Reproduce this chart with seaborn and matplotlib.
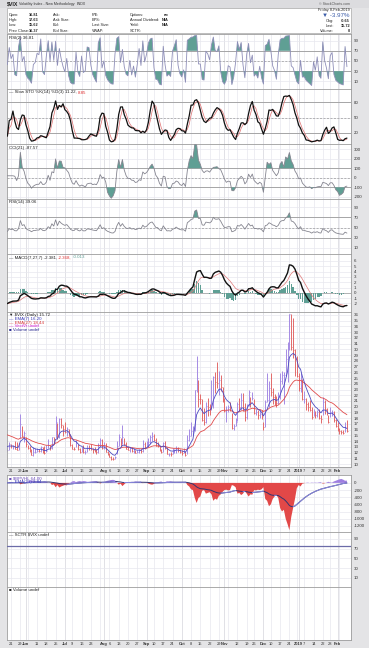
import numpy as np
import pandas as pd
import matplotlib
matplotlib.use("Agg")
import matplotlib.pyplot as plt
from matplotlib.patches import Rectangle
import seaborn as sns

# ---------------- data ----------------
holidays = ["2018-05-28", "2018-07-04", "2018-09-03", "2018-11-22", "2018-12-05",
            "2018-12-25", "2019-01-01", "2019-01-21"]
dates = pd.bdate_range("2018-05-17", "2019-02-08", freq="C", holidays=holidays)

close = [12.42, 13.42, 13.08, 13.22, 12.58, 12.53, 13.22, 17.02, 14.94, 15.43,
         13.46, 12.74, 12.40, 11.64, 12.13, 12.18, 12.35, 12.34, 12.94, 12.12, 11.98, 12.31, 13.35, 12.79, 14.64, 13.77, 17.33, 14.68, 17.91, 16.85, 16.09,
         15.60, 16.14, 14.97, 13.37, 12.69, 12.64, 13.63, 12.58, 12.18, 12.83, 12.06, 12.10, 12.87, 12.86, 12.62, 12.41, 12.29, 12.14, 13.03, 14.26, 12.83,
         13.15, 12.19, 11.64, 11.27, 10.93, 10.85, 11.27, 13.16, 14.78, 13.31, 14.64, 13.45, 12.64, 12.49, 12.86, 12.25, 12.41, 11.99, 12.16, 12.50, 12.25, 13.53, 12.86,
         13.16, 13.91, 14.65, 14.88, 14.16, 13.22, 13.14, 12.37, 12.07, 13.68, 12.79, 11.75, 11.80, 11.68, 12.20, 12.42, 12.89, 12.41, 12.12,
         12.00, 12.05, 11.61, 14.22, 14.82, 15.69, 15.95, 22.96, 24.98, 21.31, 21.30, 17.62, 17.40, 20.06, 19.89, 19.64, 20.71, 25.23, 24.22, 24.16, 24.70, 23.35, 21.23,
         19.34, 19.51, 19.96, 19.91, 16.36, 16.72, 17.36, 20.45, 20.02, 21.25, 19.98, 18.14, 20.10, 22.48, 20.80, 21.52, 18.90, 19.02, 18.49, 18.79, 18.07,
         16.44, 20.74, 21.19, 23.23, 22.64, 21.76, 21.46, 20.65, 21.63, 24.52, 25.58, 25.58, 28.38, 30.11, 36.07, 30.41, 29.96, 28.34, 25.42,
         23.22, 25.45, 21.38, 21.40, 20.47, 19.98, 19.50, 18.19, 19.07, 18.60, 19.04, 18.06, 17.80, 20.80, 19.52, 18.89, 17.42, 18.87, 19.13, 17.66, 16.57,
         16.14, 15.73, 15.57, 15.38, 16.37, 15.72]

high = [13.20, 13.80, 13.55, 13.40, 14.10, 13.90, 13.60, 18.78, 16.65, 15.85,
        14.80, 13.40, 13.10, 12.60, 12.95, 12.80, 12.80, 12.70, 13.10, 13.00, 13.20, 13.40, 14.35, 13.30, 14.80, 14.70, 18.47, 17.10, 17.95, 18.10, 16.75,
        17.40, 16.40, 16.20, 15.30, 13.50, 12.90, 14.20, 13.50, 12.80, 12.90, 13.40, 12.40, 13.30, 13.40, 13.50, 12.85, 12.90, 12.60, 13.60, 14.60, 14.30,
        13.80, 13.60, 12.30, 12.00, 11.40, 11.20, 11.50, 14.00, 15.20, 14.60, 16.86, 14.50, 13.90, 13.10, 12.95, 12.90, 12.80, 12.50, 12.40, 12.70, 12.60, 14.20, 13.80,
        14.00, 14.50, 15.00, 15.60, 15.20, 14.60, 13.80, 13.10, 12.70, 13.80, 14.00, 12.90, 12.00, 12.10, 12.80, 12.60, 13.10, 13.00, 12.70,
        12.50, 12.80, 12.30, 15.10, 16.10, 17.30, 16.60, 23.00, 28.84, 24.70, 22.30, 21.40, 19.80, 20.90, 21.50, 20.50, 24.60, 25.40, 26.10, 27.80, 26.20, 25.50, 23.40,
        21.50, 20.10, 20.30, 20.80, 18.90, 17.00, 18.10, 20.81, 21.50, 22.40, 22.40, 20.70, 20.40, 22.90, 21.70, 22.50, 21.40, 19.60, 19.40, 19.60, 19.50,
        17.30, 21.20, 25.90, 24.50, 25.94, 23.30, 22.20, 21.80, 22.50, 25.90, 26.20, 26.00, 30.00, 31.26, 36.20, 36.10, 35.40, 30.10, 28.90,
        25.80, 25.90, 24.80, 22.80, 21.60, 20.80, 21.20, 19.90, 19.60, 19.30, 19.40, 19.60, 18.50, 21.70, 21.10, 19.70, 18.50, 20.00, 19.40, 19.20, 17.90,
        17.40, 16.30, 16.00, 15.90, 17.30, 17.63]

low = [12.30, 12.50, 12.80, 12.65, 12.55, 12.45, 12.40, 14.60, 14.80, 13.90,
       12.90, 12.60, 12.15, 11.60, 11.50, 12.00, 12.05, 12.10, 12.20, 11.90, 11.85, 12.10, 12.80, 12.40, 12.70, 13.50, 14.60, 14.40, 14.50, 16.30, 14.90,
       15.40, 14.90, 14.90, 13.20, 12.60, 12.40, 13.00, 12.50, 12.00, 12.10, 11.90, 11.85, 12.20, 12.50, 12.50, 11.90, 12.10, 11.80, 12.00, 12.90, 12.70,
       12.60, 12.10, 11.60, 11.20, 10.80, 10.70, 10.85, 11.80, 13.20, 13.20, 13.50, 13.30, 12.60, 12.40, 12.20, 12.15, 12.00, 11.90, 11.90, 12.00, 11.95, 12.20, 12.70,
       12.90, 13.00, 13.50, 14.00, 14.00, 13.10, 12.90, 12.30, 11.90, 12.20, 12.70, 11.70, 11.50, 11.40, 11.80, 12.00, 11.90, 12.20, 11.90,
       11.60, 11.90, 11.34, 11.80, 14.10, 14.90, 15.10, 15.80, 22.50, 19.90, 20.50, 17.50, 16.90, 17.10, 18.30, 18.60, 19.50, 19.80, 22.40, 23.20, 22.00, 22.80, 20.90,
       19.00, 17.30, 19.00, 19.20, 16.20, 15.90, 16.60, 17.50, 19.20, 19.50, 19.30, 17.60, 17.90, 20.20, 19.90, 21.10, 18.80, 18.60, 17.90, 18.10, 17.80,
       16.00, 16.40, 20.80, 19.90, 21.90, 20.40, 20.30, 20.00, 20.50, 21.30, 23.90, 20.50, 25.40, 24.30, 29.90, 29.80, 28.50, 25.40, 25.20,
       22.80, 22.60, 21.10, 20.60, 19.40, 19.30, 19.30, 17.90, 18.40, 18.10, 18.20, 17.90, 17.10, 18.60, 18.70, 18.50, 17.20, 18.20, 18.40, 17.40, 16.40,
       15.80, 15.30, 15.30, 15.20, 15.60, 15.62]

bpvhl = [10, 20, 15, 5, 10, 20, 30, -40, -20, -10,
         20, 40, 60, 70, 60, 50, 40, 35, 20, 30, 45, 30, 0, 10, -60, -40, -120, -60, -130, -100, -80,
         -60, -70, -30, 10, 40, 50, 20, 40, 50, 40, 50, 45, 30, 30, 35, 40, 45, 50, 20, -20, 10,
         20, 40, 60, 70, 80, 85, 70, 10, -50, -20, -90, -40, 10, 20, 15, 30, 25, 40, 35, 30, 35, -10, 10,
         0, -20, -40, -50, -30, 0, 10, 30, 40, 0, 20, 45, 40, 45, 30, 25, 10, 20, 25,
         20, 15, 30, -60, -100, -180, -200, -420, -560, -420, -380, -220, -200, -300, -280, -260, -320, -500, -440, -470, -360, -320, -250,
         -200, -190, -210, -200, -60, -80, -120, -300, -280, -340, -300, -220, -300, -380, -320, -330, -200, -210, -190, -200, -180,
         -120, -450, -500, -650, -600, -450, -380, -340, -420, -700, -800, -750, -1000, -1150, -1320, -950, -700, -450, -150,
         -60, -100, -20, -10, 5, 10, 0, 10, 5, 10, 5, 15, 20, -20, -10, 10, 30, 15, 10, 40, 60,
         80, 100, 110, 90, 60, 64]

ema7_seed = 13.3
ema27_seed = 15.3
rsi14_seed_gain, rsi14_seed_loss = 0.33, 0.45
rsi2_seed_gain, rsi2_seed_loss = 0.3, 0.4
sctr_level = 76

tick_days = ["2018-05-21", "2018-05-29", "2018-06-01", "2018-06-11", "2018-06-18", "2018-06-25",
             "2018-07-02", "2018-07-09", "2018-07-16", "2018-07-23", "2018-08-01", "2018-08-06",
             "2018-08-13", "2018-08-20", "2018-08-27", "2018-09-04", "2018-09-10", "2018-09-17",
             "2018-09-24", "2018-10-01", "2018-10-08", "2018-10-15", "2018-10-22", "2018-10-29",
             "2018-11-01", "2018-11-12", "2018-11-19", "2018-11-26", "2018-12-03", "2018-12-10",
             "2018-12-17", "2018-12-24", "2019-01-02", "2019-01-07", "2019-01-14", "2019-01-22",
             "2019-01-28", "2019-02-01"]
tick_labels = ["21", "29", "Jun", "11", "18", "25", "Jul", "9", "16", "23", "Aug", "6", "13", "20",
               "27", "Sep", "10", "17", "24", "Oct", "8", "15", "22", "29", "Nov", "12", "19", "26",
               "Dec", "10", "17", "24", "2019", "7", "14", "22", "28", "Feb"]
bold_labels = {"Jun", "Jul", "Aug", "Sep", "Oct", "Nov", "Dec", "2019", "Feb"}

n = len(dates)
for nm, arr in [("close", close), ("high", high), ("low", low), ("bpvhl", bpvhl)]:
    if len(arr) != n:
        raise SystemExit(f"{nm} has {len(arr)} values, dates {n}")

# ---------------- indicators ----------------
x = np.arange(n)
c = pd.Series(close, dtype=float)
h = pd.Series(high, dtype=float)
l = pd.Series(low, dtype=float)


def ema_seeded(vals, span, seed):
    a = 2.0 / (span + 1)
    e = seed
    out = []
    for v in vals:
        e = e + a * (v - e)
        out.append(e)
    return np.array(out)


def rsi_wilder(vals, per, g0, l0):
    ag, al = g0, l0
    out = [100 * ag / (ag + al)]
    for i in range(1, len(vals)):
        d = vals[i] - vals[i - 1]
        ag = (ag * (per - 1) + max(d, 0)) / per
        al = (al * (per - 1) + max(-d, 0)) / per
        out.append(100 * ag / (ag + al) if ag + al > 0 else 50)
    return np.array(out)


rsi2 = rsi_wilder(close, 2, rsi2_seed_gain, rsi2_seed_loss)
rsi14 = rsi_wilder(close, 14, rsi14_seed_gain, rsi14_seed_loss)
ll = l.rolling(14, min_periods=1).min()
hh = h.rolling(14, min_periods=1).max()
kraw = 100 * (c - ll) / (hh - ll)
stok = kraw.rolling(3, min_periods=1).mean().values
stod = pd.Series(stok).rolling(3, min_periods=1).mean().values
tp = (h + l + c) / 3
sma = tp.rolling(21, min_periods=4).mean()
mdv = tp.rolling(21, min_periods=4).apply(lambda v: np.mean(np.abs(v - v.mean())), raw=True)
cci = ((tp - sma) / (0.015 * mdv)).bfill().values
ema7 = ema_seeded(close, 7, ema7_seed)
ema27 = ema_seeded(close, 27, ema27_seed)
macd = ema7 - ema27
sig = ema_seeded(macd, 7, macd[0])
hist = macd - sig
bp = np.array(bpvhl, dtype=float)
bp_ema = ema_seeded(bp, 21, 0.0)

# ---------------- style ----------------
sns.set_theme(style="white")
plt.rcParams["font.family"] = ["Liberation Sans", "DejaVu Sans"]
plt.rcParams["axes.unicode_minus"] = False

W, H = 369, 648
BG = "#e4e4e6"
TEAL = "#5f9f94"
GRIDC = "#e8e8ee"
MONTHC = "#d4d4dc"
REFC = "#9a9a9a"
FS = 3.2
HFS = 2.8

fig = plt.figure(figsize=(W / 100, H / 100), dpi=100, facecolor=BG)
renderer = fig.canvas.get_renderer()
XL = (-0.2, n + 1.2)


def ftext(px, py, s, **kw):
    kw.setdefault("fontsize", HFS)
    kw.setdefault("color", "#222222")
    kw.setdefault("va", "center")
    return fig.text(px / W, 1 - py / H, s, **kw)


def seq(px, py, parts, fs=FS, gap=1.0):
    for s, col in parts:
        t = ftext(px, py, s, fontsize=fs, color=col, zorder=20)
        px += t.get_window_extent(renderer).width + gap


def panel(top, bottom):
    ax = fig.add_axes([7 / W, 1 - bottom / H, 344 / W, (bottom - top) / H])
    ax.set_facecolor("white")
    for sp in ax.spines.values():
        sp.set_color("#9c9c9c")
        sp.set_linewidth(0.6)
    ax.yaxis.tick_right()
    ax.tick_params(axis="y", length=0, pad=2, labelsize=FS, labelcolor="#333333")
    ax.grid(axis="y", color=GRIDC, lw=0.5)
    ax.set_axisbelow(True)
    prev = None
    for i, d in enumerate(dates):
        if prev is not None and (d.month != prev.month):
            ax.axvline(i, color=MONTHC, lw=0.5, zorder=0)
        elif prev is not None and d.weekday() < prev.weekday():
            ax.axvline(i, color=GRIDC, lw=0.5, zorder=0)
        prev = d
    return ax


def finish(ax, ylim, ticks):
    ax.set_ylabel("")
    ax.set_xlabel("")
    ax.set_xlim(*XL)
    ax.set_xticks([])
    ax.set_yticks(ticks)
    ax.set_ylim(*ylim)


def osc_lines(ax, hi, mid, lo):
    ax.axhline(hi, color=REFC, lw=0.6, zorder=1)
    ax.axhline(lo, color=REFC, lw=0.6, zorder=1)
    ax.axhline(mid, color=REFC, lw=0.5, ls=(0, (3, 2)), zorder=1)


# ---------------- header ----------------
fig.patches.append(Rectangle((0, 1 - 8 / H), 1, 8 / H, transform=fig.transFigure,
                             facecolor="#dcdcdf", edgecolor="none"))
fig.patches.append(Rectangle((7 / W, 1 - 33 / H), 344 / W, 25 / H, transform=fig.transFigure,
                             facecolor="white", edgecolor="#a8a8a8", lw=0.5))
ftext(7, 4, "$VIX", fontsize=3.8, fontweight="bold")
ftext(19, 4, "Volatility Index - New Methodology  INDX", fontsize=2.6, color="#333333")
ftext(350, 4, "© StockCharts.com", fontsize=2.6, color="#555555", ha="right")
rows = [15, 20, 25, 30.5]
for yy, k, v in zip(rows, ["Open:", "High:", "Low:", "Prev Close:"], ["16.81", "17.63", "15.62", "16.37"]):
    ftext(9, yy, k)
    ftext(38, yy, v, ha="right", fontweight="bold")
for yy, k in zip(rows, ["Ask:", "Ask Size:", "Bid:", "Bid Size:"]):
    ftext(53, yy, k)
for yy, k in zip(rows, ["P/E:", "EPS:", "Last Size:", "VWAP:"]):
    ftext(92, yy, k)
for yy, k, v in zip(rows, ["Options:", "Annual Dividend:", "Yield:", "SCTR:"], ["no", "N/A", "N/A", ""]):
    ftext(130, yy, k)
    ftext(169, yy, v, ha="right", fontweight="bold")
ftext(350, 10.5, "Friday 8-Feb-2019", ha="right")
ftext(350, 15.5, "▼ -3.97%", ha="right", fontsize=4.4, color="#3a5ba8")
for yy, k, v in zip([21, 26, 31], ["Chg:", "Last:", "Volume:"], ["-0.65", "15.72", "0"]):
    ftext(334, yy, k, ha="right")
    ftext(350, yy, v, ha="right", fontweight="bold")

# ---------------- RSI(2) ----------------
ax = panel(34, 89)
osc_lines(ax, 70, 50, 30)
ax.fill_between(x, rsi2, 70, where=rsi2 >= 70, interpolate=True, color=TEAL, lw=0, zorder=2)
ax.fill_between(x, rsi2, 30, where=rsi2 <= 30, interpolate=True, color=TEAL, lw=0, zorder=2)
sns.lineplot(x=x, y=rsi2, ax=ax, color="#8e8eb8", lw=0.6, zorder=3)
finish(ax, (-5, 103), [90, 70, 50, 30, 10])
seq(9, 37.5, [("RSI(2) 36.81", "#222222")])

# ---------------- Slow STO ----------------
ax = panel(89, 144)
osc_lines(ax, 80, 50, 20)
sns.lineplot(x=x, y=stod, ax=ax, color="#e07070", lw=0.5, zorder=3)
sns.lineplot(x=x, y=stok, ax=ax, color="#111111", lw=0.9, zorder=4)
finish(ax, (-2, 106), [80, 50, 20])
seq(9, 92.5, [("— Slow STO %K(14) %D(3) 11.22,", "#222222"), ("8.85", "#e03030")])

# ---------------- CCI ----------------
ax = panel(144, 199)
osc_lines(ax, 100, 0, -100)
ax.fill_between(x, cci, 100, where=cci >= 100, interpolate=True, color=TEAL, lw=0, zorder=2)
ax.fill_between(x, cci, -100, where=cci <= -100, interpolate=True, color=TEAL, lw=0, zorder=2)
sns.lineplot(x=x, y=cci, ax=ax, color="#858590", lw=0.6, zorder=3)
finish(ax, (-222, 354), [300, 200, 100, 0, -100, -200])
seq(9, 147.5, [("CCI(21) -87.57", "#222222")])

# ---------------- RSI(14) ----------------
ax = panel(199, 254)
osc_lines(ax, 70, 50, 30)
ax.fill_between(x, rsi14, 70, where=rsi14 >= 70, interpolate=True, color=TEAL, lw=0, zorder=2)
ax.fill_between(x, rsi14, 30, where=rsi14 <= 30, interpolate=True, color=TEAL, lw=0, zorder=2)
sns.lineplot(x=x, y=rsi14, ax=ax, color="#85858f", lw=0.6, zorder=3)
finish(ax, (-2, 106), [90, 70, 50, 30, 10])
seq(9, 202.5, [("RSI(14) 39.06", "#222222")])

# ---------------- MACD ----------------
ax = panel(254, 312)
ax.axhline(0, color=REFC, lw=0.5, zorder=1)
ax.bar(x, hist, width=0.75, color=TEAL, lw=0, zorder=2)
sns.lineplot(x=x, y=sig, ax=ax, color="#e07878", lw=0.5, zorder=3)
sns.lineplot(x=x, y=macd, ax=ax, color="#111111", lw=1.0, zorder=4)
finish(ax, (-3.6, 7.3), [6, 5, 4, 3, 2, 1, 0, -1, -2])
seq(9, 257.5, [("— MACD(7,27,7) -2.381,", "#222222"), ("-2.368,", "#e03030"), ("-0.013", TEAL)])

# ---------------- Price ----------------
ax = panel(312, 467)
prevc = np.r_[close[0], close[:-1]]
cols = np.where(np.array(close) >= prevc, "#a58be4", "#e26a6a")
ax.vlines(x, low, high, colors=cols, lw=0.7, zorder=2)
ax.hlines(close, x, x + 0.5, colors=cols, lw=0.6, zorder=2)
sns.lineplot(x=x, y=ema27, ax=ax, color="#e04a4a", lw=0.6, zorder=3)
sns.lineplot(x=x, y=ema7, ax=ax, color="#4a4ac0", lw=0.6, zorder=3)
finish(ax, (9.5, 36.5), list(range(10, 37)))
seq(9, 315, [("▼ $VIX (Daily) 15.72", "#222222")])
seq(9, 318.8, [("— EMA(7) 16.20", "#3a3ab8")])
seq(9, 322.6, [("— EMA(27) 18.44", "#d83a3a")])
seq(9, 326.4, [("— VectVr undef", "#d020d0")])
seq(9, 330.2, [("■ Volume undef", "#2a2a90")])
for d, t in zip(tick_days, tick_labels):
    i = dates.get_loc(pd.Timestamp(d))
    ax.text(i, -3.6 / 155, t, transform=ax.get_xaxis_transform(), ha="center", va="center",
            fontsize=2.9, color="#333333", fontweight="bold" if t in bold_labels else "normal")

# ---------------- BPVHL ----------------
ax = panel(475, 532)
ax.fill_between(x, bp, 0, where=bp >= 0, interpolate=True, color="#9f7fe0", lw=0, zorder=2)
ax.fill_between(x, bp, 0, where=bp <= 0, interpolate=True, color="#e24848", lw=0, zorder=2)
sns.lineplot(x=x, y=bp_ema, ax=ax, color="#34346e", lw=0.7, zorder=3)
rise = np.r_[False, np.diff(bp_ema) > 0]
show = rise | np.r_[rise[1:], False]
ax.plot(x, np.where(show, bp_ema, np.nan), color="#8a8ae0", lw=0.7, zorder=4)
finish(ax, (-1370, 220), [0, -200, -400, -600, -800, -1000, -1200])
seq(9, 478, [("■ $BPVHL 64.00", "#6a4ab8")])
seq(9, 482, [("— EMA(21) 2.84", "#3a3ab8")])

# ---------------- SCTR ----------------
ax = panel(532, 587)
ax.axhline(sctr_level, color="#6b6ba8", lw=0.9, zorder=3)
finish(ax, (-8.5, 104), [90, 70, 50, 30, 10])
seq(9, 535, [("— SCTR $VIX undef", "#222222")])

# ---------------- Volume ----------------
ax = panel(587, 640)
ax.grid(False)
finish(ax, (0, 1), [])
seq(9, 590, [("■ Volume undef", "#222222")])
for d, t in zip(tick_days, tick_labels):
    i = dates.get_loc(pd.Timestamp(d))
    ax.text(i, -4.0 / 53, t, transform=ax.get_xaxis_transform(), ha="center", va="center",
            fontsize=2.9, color="#333333", fontweight="bold" if t in bold_labels else "normal")

fig.savefig("out.png", dpi=100, facecolor=BG)
